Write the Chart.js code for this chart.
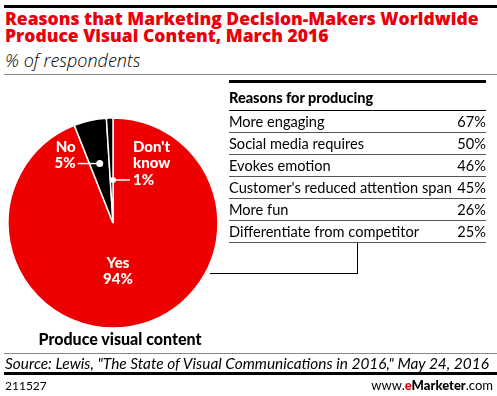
<!DOCTYPE html>
<html>
<head>
<meta charset="utf-8">
<script src="https://cdn.jsdelivr.net/npm/chart.js@4.4.1/dist/chart.umd.min.js"></script>
<style>
body { margin: 0; background: #fff; }
#wrap { position: relative; width: 497px; height: 396px; overflow: hidden; font-family: Lato, "Open Sans", sans-serif; color: #000; }
.abs { position: absolute; }
.rule { position: absolute; }
#title { left: 5px; top: 10px; color: #e8000b; font-family: "Open Sans", sans-serif; font-weight: 800; font-size: 17.5px; line-height: 17px; white-space: nowrap; }
#sub { left: 5px; top: 48px; font-family: "Open Sans", sans-serif; font-style: italic; font-weight: 300; font-size: 18px; white-space: nowrap; }
#pie { position: absolute; left: 0; top: 108px; }
#pieTitle { left: 10px; width: 220px; top: 329px; text-align: center; font-weight: 900; font-size: 16px; }
#tblHead { left: 229px; top: 89px; font-weight: 900; font-size: 14.5px; }
.row { position: absolute; left: 229px; width: 257px; height: 21px; border-bottom: 1px solid #555; font-size: 14.6px; line-height: 21px; }
.row span.v { position: absolute; right: 0; top: 0; }
#source { left: 5px; top: 354px; font-style: italic; font-size: 15.4px; white-space: nowrap; }
#code { left: 5px; top: 378px; font-size: 12px; }
#site { right: 4px; top: 377px; font-size: 13px; }
#site b { font-weight: 900; }
#site .e { color: #e8000b; }
</style>
</head>
<body>
<div id="wrap">
  <div class="rule" style="left:4px;top:5px;width:493px;height:3px;background:#000"></div>
  <div id="title" class="abs">Reasons that Marketing Decision-Makers Worldwide<br>Produce Visual Content, March 2016</div>
  <div id="sub" class="abs">% of respondents</div>
  <div class="rule" style="left:4px;top:74px;width:493px;height:1px;background:#888"></div>

  <canvas id="pie" width="226" height="230"></canvas>
  <div id="pieTitle" class="abs">Produce visual content</div>

  <div class="rule" style="left:229px;top:80px;width:257px;height:3px;background:#000"></div>
  <div id="tblHead" class="abs">Reasons for producing</div>
  <div class="rule" style="left:229px;top:110px;width:257px;height:1px;background:#000"></div>
  <div id="rows"></div>

  <div class="rule" style="left:357px;top:243px;width:1px;height:31px;background:#000"></div>
  <div class="rule" style="left:210px;top:273px;width:148px;height:1px;background:#000"></div>

  <div class="rule" style="left:4px;top:353px;width:493px;height:1px;background:#888"></div>
  <div id="source" class="abs">Source: Lewis, "The State of Visual Communications in 2016," May 24, 2016</div>
  <div class="rule" style="left:4px;top:372px;width:493px;height:3px;background:#000"></div>
  <div id="code" class="abs">211527</div>
  <div id="site" class="abs">www.<b class="e">e</b><b>Marketer</b>.com</div>
</div>

<script>
// pie: produce visual content
var pieLabels = ['Yes', 'No', "Don't know"];
var pieValues = [94, 5, 1];

// table: reasons for producing
var reasons = ['More engaging', 'Social media requires', 'Evokes emotion',
  "Customer's reduced attention span", 'More fun', 'Differentiate from competitor'];
var reasonValues = [67, 50, 46, 45, 26, 25];

var rowsDiv = document.getElementById('rows');
reasons.forEach(function (r, i) {
  var d = document.createElement('div');
  d.className = 'row';
  d.style.top = (111 + i * 22) + 'px';
  d.innerHTML = '<span>' + r + '</span><span class="v">' + reasonValues[i] + '%</span>';
  rowsDiv.appendChild(d);
});

var labelPlugin = {
  id: 'pieLabels',
  afterDatasetsDraw: function (chart) {
    var c = chart.ctx;
    var arcs = chart.getDatasetMeta(0).data;
    var cx = arcs[0].x, cy = arcs[0].y, R = arcs[0].outerRadius;
    c.save();
    c.fillStyle = '#fff';
    c.strokeStyle = '#fff';
    c.lineWidth = 1.5;
    c.font = '900 15px Lato, sans-serif';
    c.textBaseline = 'middle';

    // Yes
    c.textAlign = 'center';
    c.fillText(pieLabels[0], cx + 5, cy + 40);
    c.fillText(pieValues[0] + '%', cx + 5, cy + 56);

    // No
    var a = arcs[1];
    var mid = (a.startAngle + a.endAngle) / 2;
    var dx = cx + Math.cos(mid) * R * 0.58, dy = cy + Math.sin(mid) * R * 0.58;
    c.beginPath(); c.moveTo(dx, dy); c.lineTo(dx - 22, dy); c.stroke();
    c.beginPath(); c.arc(dx, dy, 3.5, 0, Math.PI * 2); c.fill();
    c.textAlign = 'right';
    c.fillText(pieLabels[1], dx - 24, dy - 16);
    c.fillText(pieValues[1] + '%', dx - 24, dy);

    // Don't know
    a = arcs[2];
    var kx = cx + Math.cos(a.endAngle) * R * 0.41, ky = cy + Math.sin(a.endAngle) * R * 0.41;
    c.beginPath(); c.moveTo(kx, ky); c.lineTo(kx + 17, ky); c.stroke();
    c.beginPath(); c.arc(kx, ky, 3, 0, Math.PI * 2); c.fill();
    c.textAlign = 'left';
    c.fillText("Don't", kx + 20, ky - 33);
    c.fillText('know', kx + 20, ky - 17);
    c.fillText(pieValues[2] + '%', kx + 20, ky);
    c.restore();
  }
};

new Chart(document.getElementById('pie').getContext('2d'), {
  type: 'pie',
  data: {
    labels: pieLabels,
    datasets: [{
      data: pieValues,
      backgroundColor: ['#ef0000', '#000000', '#000000'],
      borderColor: '#ffffff',
      borderWidth: 1.5,
      hoverOffset: 0
    }]
  },
  options: {
    responsive: false,
    animation: false,
    events: [],
    radius: 105,
    plugins: { legend: { display: false }, tooltip: { enabled: false } }
  },
  plugins: [labelPlugin]
});
</script>
</body>
</html>
